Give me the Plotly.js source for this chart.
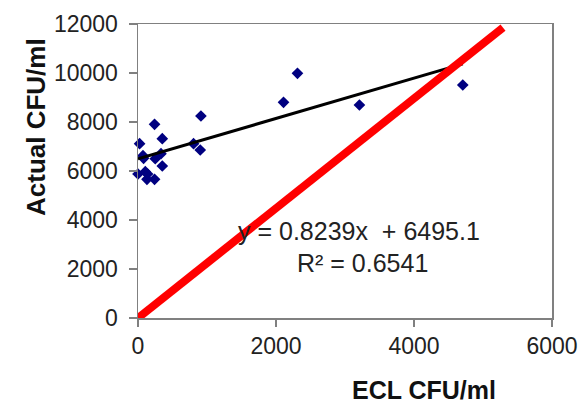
<!DOCTYPE html>
<html>
<head>
<meta charset="utf-8">
<script src="https://cdn.plot.ly/plotly-3.0.1.min.js"></script>
<style>html,body{margin:0;padding:0;background:#fff;}#chart{width:579px;height:405px;}</style>
</head>
<body>
<div id="chart"></div>
<script>
// Data
const eclCFU = [912, 240, 23, 352, 805, 902, 72, 81, 250, 333, 352, 0, 106, 139, 130, 240, 2109, 2311, 3209, 4707];
const actualCFU = [8245, 7906, 7114, 7318, 7114, 6857, 6624, 6518, 6502, 6706, 6204, 5878, 5971, 5878, 5661, 5661, 8804, 9988, 8694, 9510];

// Linear trendline (from the chart's equation)
const trendSlope = 0.8239;
const trendIntercept = 6495.1;
const trendX = [0, 4707];

// Red reference line
const refX = [0, 5290];
const refY = [0, 11850];

const xTicks = [0, 2000, 4000, 6000];
const yTicks = [0, 2000, 4000, 6000, 8000, 10000, 12000];

const eqText = "y = 0.8239x  + 6495.1";
const r2Text = "R² = 0.6541";
const xTitle = "ECL CFU/ml";
const yTitle = "Actual CFU/ml";

const trendY = trendX.map(x => trendSlope * x + trendIntercept);

const traces = [
  {x: eclCFU, y: actualCFU, type: 'scatter', mode: 'markers',
   marker: {symbol: 'diamond', size: 9, color: '#000080'}, cliponaxis: false},
  {x: trendX, y: trendY, type: 'scatter', mode: 'lines',
   line: {color: '#000000', width: 3}},
  {x: refX, y: refY, type: 'scatter', mode: 'lines',
   line: {color: '#FF0000', width: 8}}
];

const font = {family: 'Liberation Sans, Arial, sans-serif', color: '#222222'};

const layout = {
  width: 579, height: 405,
  margin: {l: 138, r: 27, t: 24, b: 87},
  paper_bgcolor: '#ffffff', plot_bgcolor: '#ffffff',
  showlegend: false,
  font: font,
  xaxis: {
    range: [0, 6000], tickvals: xTicks, ticktext: xTicks.map(String),
    showgrid: false, zeroline: false, showline: true, mirror: true,
    linecolor: '#808080', linewidth: 1.5,
    ticks: 'outside', ticklen: 7, tickcolor: '#808080', tickwidth: 1.5,
    tickfont: {family: font.family, size: 23, color: '#222222'}
  },
  yaxis: {
    range: [0, 12000], tickvals: yTicks, ticktext: yTicks.map(String),
    showgrid: false, zeroline: false, showline: true, mirror: true,
    linecolor: '#808080', linewidth: 1.5,
    ticks: 'outside', ticklen: 8, tickcolor: '#808080', tickwidth: 1.5,
    ticklabelstandoff: 6,
    tickfont: {family: font.family, size: 23, color: '#222222'}
  },
  annotations: [
    {text: eqText, xref: 'paper', yref: 'paper', x: (359 - 138) / 414, y: (318 - 231) / 294,
     xanchor: 'center', yanchor: 'middle', showarrow: false,
     font: {family: font.family, size: 25, color: '#222222'}},
    {text: r2Text, xref: 'paper', yref: 'paper', x: (362 - 138) / 414, y: (318 - 263) / 294,
     xanchor: 'center', yanchor: 'middle', showarrow: false,
     font: {family: font.family, size: 25, color: '#222222'}},
    {text: '<b>' + xTitle + '</b>', xref: 'paper', yref: 'paper', x: (424 - 138) / 414, y: (318 - 390) / 294,
     xanchor: 'center', yanchor: 'middle', showarrow: false,
     font: {family: font.family, size: 25, color: '#111111'}},
    {text: '<b>' + yTitle + '</b>', xref: 'paper', yref: 'paper', x: (36 - 138) / 414, y: (318 - 127) / 294,
     xanchor: 'center', yanchor: 'middle', showarrow: false, textangle: -90,
     font: {family: font.family, size: 26, color: '#111111'}}
  ]
};

Plotly.newPlot('chart', traces, layout, {displayModeBar: false, staticPlot: true});
</script>
</body>
</html>
